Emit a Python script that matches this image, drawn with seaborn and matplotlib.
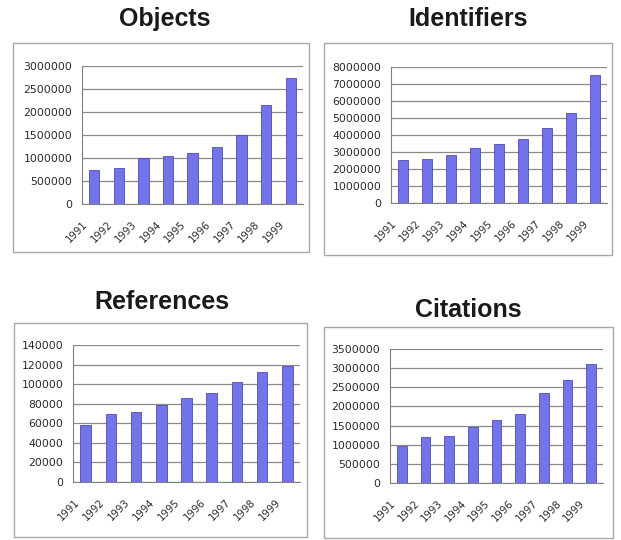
import matplotlib
matplotlib.use("Agg")
import matplotlib.pyplot as plt
import matplotlib.patches as mpatches
import matplotlib.transforms as mtransforms
import seaborn as sns
import pandas as pd

years = ["1991", "1992", "1993", "1994", "1995", "1996", "1997", "1998", "1999"]
objects = [750000, 790000, 990000, 1045000, 1105000, 1230000, 1510000, 2160000, 2740000]
identifiers = [2520000, 2560000, 2830000, 3240000, 3450000, 3790000, 4390000, 5310000, 7510000]
references = [58600, 69500, 71900, 78700, 85500, 91300, 102500, 112700, 118500]
citations = [970000, 1190000, 1240000, 1470000, 1640000, 1790000, 2340000, 2690000, 3100000]

titles = ["Objects", "Identifiers", "References", "Citations"]
series = [objects, identifiers, references, citations]
ymax = [3000000, 8000000, 140000, 3500000]
ystep = [500000, 1000000, 20000, 500000]

W, H = 621, 540
# axes rectangles (pixels: x0, x1, ytop, ybottom)
axes_px = [(82, 303, 66, 204), (391, 607, 67, 203), (73, 300, 75 + 270, 212 + 270), (390, 603, 79 + 270, 213 + 270)]
box_px = [(13, 309, 43, 252), (324, 612, 43, 255), (14, 307, 323, 537), (324, 613, 327, 538)]
title_px = [(165, 19), (468, 19), (162, 302), (468, 310)]

sns.set_theme(style="white")
plt.rcParams['font.family'] = ['Liberation Sans', 'DejaVu Sans']

fig = plt.figure(figsize=(W / 100, H / 100), dpi=100)
fig.patch.set_facecolor("white")

for i in range(4):
    bx0, bx1, by0, by1 = box_px[i]
    rect = mpatches.Rectangle((bx0 / W, 1 - by1 / H), (bx1 - bx0) / W, (by1 - by0) / H,
                              transform=fig.transFigure, fill=False, edgecolor="#a8a8a8",
                              linewidth=1.0)
    fig.patches.append(rect)
    tx, ty = title_px[i]
    fig.text(tx / W, 1 - ty / H, titles[i], ha="center", va="center", fontsize=18,
             fontweight="bold", color="#1a1a1a")

    x0, x1, yt, yb = axes_px[i]
    ax = fig.add_axes([x0 / W, 1 - yb / H, (x1 - x0) / W, (yb - yt) / H])
    df = pd.DataFrame({"year": years, "value": series[i]})
    sns.barplot(data=df, x="year", y="value", ax=ax, color="#7474ea", width=0.42,
                edgecolor="#4e4eb0", linewidth=0.6, saturation=1)
    ax.set_ylim(0, ymax[i])
    ax.set_xlim(-0.5, len(years) - 0.5)
    ax.set_xlabel("")
    ax.set_ylabel("")
    ax.yaxis.grid(True, color="#8a8a8a", linewidth=0.9)
    ax.set_axisbelow(True)
    for s in ["top", "right"]:
        ax.spines[s].set_visible(False)
    ax.spines["left"].set_color("#808080")
    ax.spines["bottom"].set_color("#808080")
    ax.spines["left"].set_linewidth(0.8)
    ax.spines["bottom"].set_linewidth(0.8)
    ax.tick_params(axis="y", length=3, width=0.6, color="#808080", pad=4)
    ax.tick_params(axis="x", length=0, pad=0)

    ticks = list(range(0, ymax[i] + 1, ystep[i]))
    ax.set_yticks(ticks)
    ax.set_yticklabels([str(t) for t in ticks], fontsize=7.8, family="DejaVu Sans",
                       color="#2a2a2a")
    ax.set_xticks(range(len(years)))
    ax.set_xticklabels(years, rotation=45, fontsize=7.3, family="DejaVu Sans",
                       ha="right", va="center", rotation_mode="anchor", color="#2a2a2a")
    offset = mtransforms.ScaledTranslation(-8 / 100, -19 / 100, fig.dpi_scale_trans)
    for lab in ax.get_xticklabels():
        lab.set_transform(lab.get_transform() + offset)

fig.savefig("out.png", dpi=100)
